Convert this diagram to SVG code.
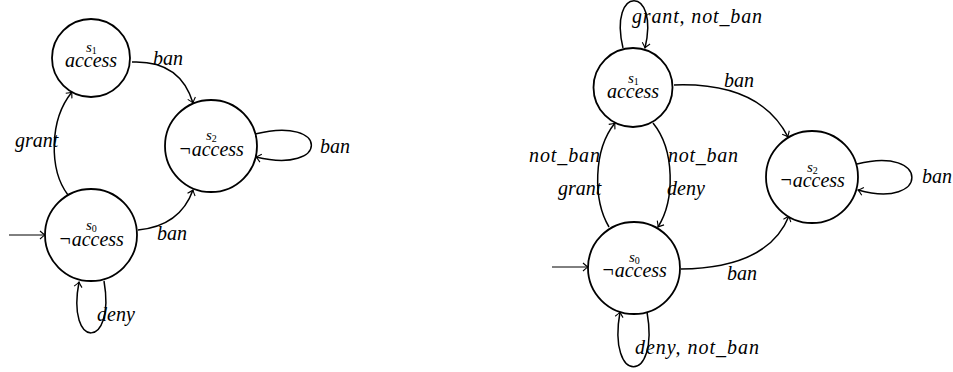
<svg xmlns="http://www.w3.org/2000/svg" width="953" height="372" viewBox="0 0 953 372">
<style>
.st{fill:#fff;stroke:#000;stroke-width:1.8}
.e{fill:none;stroke:#000;stroke-width:1.5;marker-end:url(#ar)}
.i{fill:none;stroke:#000;stroke-width:1;marker-end:url(#ar)}
text{font-family:"Liberation Serif","Times New Roman","DejaVu Serif",serif;font-style:italic;fill:#000}
.m{font-size:20px;text-anchor:middle}
.s{font-size:15px}
.d{font-size:10px;font-style:normal}
.l{font-size:20px}
</style>
<defs>
<marker id="ar" viewBox="-6 -5 8 10" markerWidth="8" markerHeight="10" refX="0" refY="0" orient="auto" markerUnits="userSpaceOnUse">
<path d="M-5,-4 Q-1.5,-0.8 0,0 Q-1.5,0.8 -5,4" fill="none" stroke="#000" stroke-width="1.1"/>
</marker>
</defs>
<g id="edges">
<path class="i" d="M9,235 L45,235"/>
<path class="e" d="M68,195 C49,170 49,120 72,92"/>
<path class="e" d="M132,62 Q180,60 193,103"/>
<path class="e" d="M138,230 Q180,226 193,190"/>
<path class="e" d="M255,134 C330,115 330,175 256,157"/>
<path class="e" d="M104,281 C116,350 66,350 79,282"/>
<path class="i" d="M552,267 L588,267"/>
<path class="e" d="M623,48 C608,-15 660,-15 645,48"/>
<path class="e" d="M674,85 Q760,82 788,137"/>
<path class="e" d="M609,227 C593,200 593,150 615,123"/>
<path class="e" d="M653,123 C675,150 675,200 658,227"/>
<path class="e" d="M681,269 Q768,268 789,216"/>
<path class="e" d="M857,164 C930,145 930,210 858,190"/>
<path class="e" d="M647,312 C660,385 607,385 620,312"/>
<text class="l" x="15" y="147">grant</text>
<text class="l" x="153" y="65">ban</text>
<text class="l" x="157" y="240">ban</text>
<text class="l" x="320" y="153">ban</text>
<text class="l" x="97" y="321">deny</text>
<text class="l" x="632" y="23" textLength="130">grant, not_ban</text>
<text class="l" x="724" y="87">ban</text>
<text class="l" x="529" y="162" textLength="71">not_ban</text>
<text class="l" x="558" y="195">grant</text>
<text class="l" x="668" y="162" textLength="70">not_ban</text>
<text class="l" x="667" y="195">deny</text>
<text class="l" x="727" y="280">ban</text>
<text class="l" x="922" y="183">ban</text>
<text class="l" x="635" y="354" textLength="124">deny, not_ban</text>
</g>
<g id="L_s1">
<circle class="st" cx="91" cy="58" r="39"/>
<text><tspan class="s" x="86" y="52">s</tspan><tspan class="d" dy="2">1</tspan><tspan class="m" x="91" y="67">access</tspan></text>
</g>
<g id="L_s0">
<circle class="st" cx="91" cy="235" r="46"/>
<text><tspan class="s" x="86" y="230">s</tspan><tspan class="d" dy="2">0</tspan><tspan class="m" x="91" y="246">¬access</tspan></text>
</g>
<g id="L_s2">
<circle class="st" cx="211" cy="146" r="46"/>
<text><tspan class="s" x="206" y="140">s</tspan><tspan class="d" dy="2">2</tspan><tspan class="m" x="211" y="156">¬access</tspan></text>
</g>
<g id="R_s1">
<circle class="st" cx="633" cy="87.5" r="39.5"/>
<text><tspan class="s" x="628" y="83">s</tspan><tspan class="d" dy="2">1</tspan><tspan class="m" x="633" y="98">access</tspan></text>
</g>
<g id="R_s0">
<circle class="st" cx="634" cy="268" r="46"/>
<text><tspan class="s" x="629" y="262">s</tspan><tspan class="d" dy="2">0</tspan><tspan class="m" x="634" y="277">¬access</tspan></text>
</g>
<g id="R_s2">
<circle class="st" cx="812" cy="177" r="46"/>
<text><tspan class="s" x="807" y="172">s</tspan><tspan class="d" dy="2">2</tspan><tspan class="m" x="812" y="187">¬access</tspan></text>
</g>
</svg>
